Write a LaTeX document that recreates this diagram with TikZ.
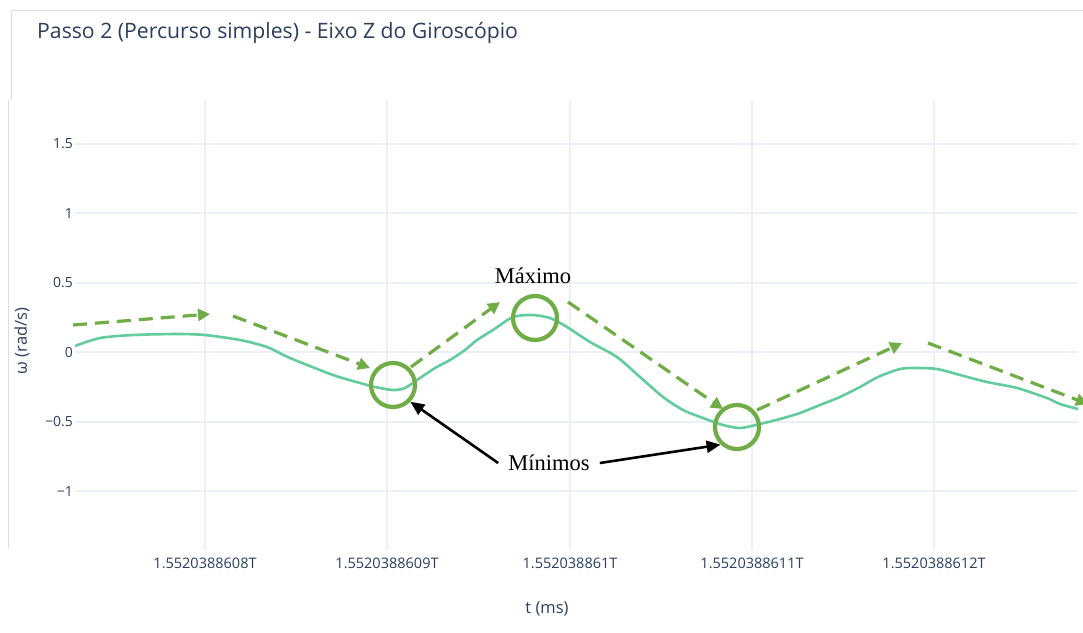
\documentclass[tikz,border=0pt]{standalone}
\usepackage{fontspec}
\setmainfont{Open Sans}
\newfontfamily\serifann{Liberation Serif}
\usetikzlibrary{arrows.meta}
\definecolor{gridc}{RGB}{235,240,248}
\definecolor{framec}{RGB}{222,222,222}
\definecolor{txtc}{RGB}{42,63,95}
\definecolor{curvec}{RGB}{99,204,156}
\definecolor{annog}{RGB}{112,173,71}
\tikzset{
  gridline/.style={draw=gridc, line width=1.2pt},
  zeroline/.style={draw=gridc, line width=2pt},
  frameline/.style={draw=framec, line width=1pt},
  ytick/.style={anchor=east, text=txtc, font=\fontsize{14}{16}\selectfont, inner sep=0pt},
  xtick/.style={anchor=center, text=txtc, font=\fontsize{14.5}{16}\selectfont, inner sep=0pt},
  axtitle/.style={text=txtc, font=\fontsize{16.5}{18}\selectfont, inner sep=0pt},
  trendarrow/.style={draw=annog, line width=3.2pt, dash pattern=on 14pt off 8pt, -{Triangle[length=12pt,width=12pt]}},
  markcircle/.style={circle, draw=annog, line width=4.2pt, minimum size=44pt, inner sep=0pt},
  annot/.style={font=\serifann\fontsize{22.5}{24}\selectfont, text=black},
  blackarrow/.style={draw=black, line width=2.6pt, -{Triangle[length=14pt,width=12pt]}}
}
\begin{document}
\begin{tikzpicture}[x=1pt,y=-1pt]
\clip (0,0) rectangle (1083,632);
\fill[white] (0,0) rectangle (1083,632);
% frame lines
\draw[frameline] (11,100) -- (11,10) -- (1083,10);
\draw[frameline] (8,100) -- (8,548);
% grid
\foreach \yy in {144,213,283,422,491} \draw[gridline] (75,\yy) -- (1078,\yy);
\draw[zeroline] (75,352) -- (1078,352);
\foreach \xx in {205,387,570,752,934} \draw[gridline] (\xx,100) -- (\xx,550);
% title
\node[anchor=west, text=txtc, font=\fontsize{21.2}{24}\selectfont, inner sep=0pt] (title) at (37,33) {Passo 2 (Percurso simples) - Eixo Z do Giroscópio};
% y ticks
\node[ytick] (y15) at (73,144) {1.5};
\node[ytick] (y1) at (73,213) {1};
\node[ytick] (y05) at (73,283) {0.5};
\node[ytick] (y0) at (73,352) {0};
\node[ytick] (ym05) at (73,422) {\symbol{"2212}0.5};
\node[ytick] (ym1) at (73,491) {\symbol{"2212}1};
% x ticks
\node[xtick] (x1) at (205,563) {1.5520388608T};
\node[xtick] (x2) at (387,563) {1.5520388609T};
\node[xtick] (x3) at (570,563) {1.552038861T};
\node[xtick] (x4) at (752,563) {1.5520388611T};
\node[xtick] (x5) at (934,563) {1.5520388612T};
% axis titles
\node[axtitle] (xt) at (547,609) {t (ms)};
\node[axtitle, rotate=90] (yt) at (22,341) {ω (rad/s)};
% data curve
\draw[curvec, line width=2.6pt, line join=round] plot[smooth, tension=0.45] coordinates {
(75,346) (100,338) (133,335) (177,334) (205,335) (240,340) (267,347) (290,358) (333,375) (360,383) (375,387) (393,390) (405,388) (420,378) (435,368) (450,360) (465,350) (477,340) (493,330) (513,317) (532,315) (550,318) (567,327) (590,342) (617,357) (640,377) (663,397) (683,410) (703,418) (723,425) (740,428) (760,424) (780,419) (800,413) (820,405) (840,397) (860,387) (878,377) (900,369) (917,368) (937,369) (960,375) (987,382) (1017,388) (1047,398) (1060,404) (1078,409)};
% trend arrows
\coordinate (t1a) at (73,325); \coordinate (t1b) at (210,314);
\coordinate (t2a) at (233,316); \coordinate (t2b) at (370,368);
\coordinate (t3a) at (411,367); \coordinate (t3b) at (500,302);
\coordinate (t4a) at (568,302); \coordinate (t4b) at (723,409);
\coordinate (t5a) at (757,410); \coordinate (t5b) at (902,343);
\coordinate (t6a) at (928,343); \coordinate (t6b) at (1088,404);
\draw[trendarrow] (t1a) -- (t1b);
\draw[trendarrow] (t2a) -- (t2b);
\draw[trendarrow] (t3a) -- (t3b);
\draw[trendarrow] (t4a) -- (t4b);
\draw[trendarrow] (t5a) -- (t5b);
\draw[trendarrow] (t6a) -- (t6b);
% circles
\node[markcircle] (c1) at (393,385) {};
\node[markcircle] (c2) at (535,318) {};
\node[markcircle] (c3) at (737,427) {};
% labels
\node[annot] (mx) at (533,276) {Máximo};
\node[annot, inner xsep=10pt] (mn) at (549,463) {Mínimos};
\draw[blackarrow] (mn.west) -- (c1.-44);
\draw[blackarrow] (mn.east) -- (c3.227);
\end{tikzpicture}
\end{document}
